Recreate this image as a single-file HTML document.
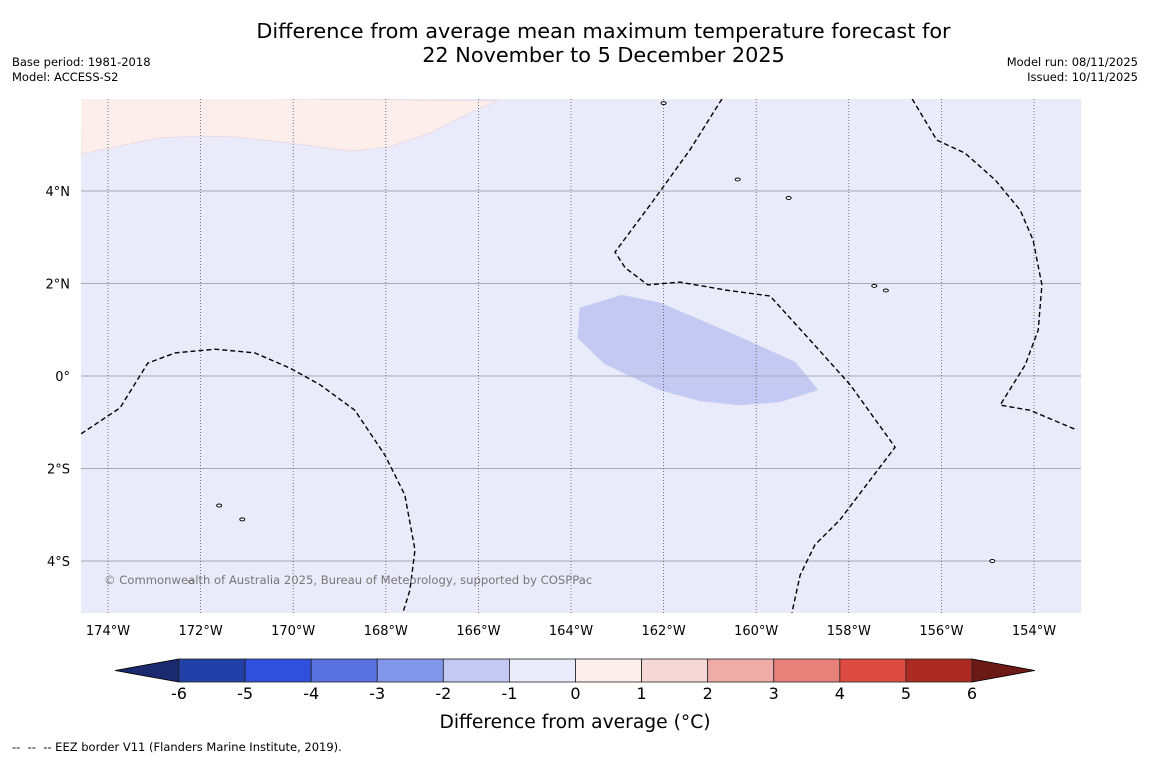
<!DOCTYPE html>
<html><head><meta charset="utf-8"><style>
body{margin:0;background:#fff;font-family:"DejaVu Sans","Liberation Sans",sans-serif;}
#wrap{position:relative;width:1150px;height:758px;overflow:hidden;background:#fff}
.t{position:absolute;white-space:nowrap;color:#000}
</style></head><body>
<div id="wrap">
<div class="t" style="left:0;width:1207px;top:19px;text-align:center;font-size:20.8px;line-height:24px">Difference from average mean maximum temperature forecast for<br>22 November to 5 December 2025</div>
<div class="t" style="left:12px;top:55px;font-size:11.5px;line-height:15px">Base period: 1981-2018<br>Model: ACCESS-S2</div>
<div class="t" style="right:12px;top:55px;font-size:11.5px;line-height:15px;text-align:right">Model run: 08/11/2025<br>Issued: 10/11/2025</div>
<div class="t" style="left:12px;top:740px;font-size:11.5px">--&nbsp; --&nbsp; -- EEZ border V11 (Flanders Marine Institute, 2019).</div>
<svg id="svg" width="1150" height="758" style="position:absolute;left:0;top:0"></svg>
</div>
<script>
const lonTicks=[-174,-172,-170,-168,-166,-164,-162,-160,-158,-156,-154];
const latTicks=[4,2,0,-2,-4];
const warmLon=[-174.58,-172.88,-172.01,-171.26,-170.07,-168.77,-167.95,-167.05,-166.07,-165.58];
const warmLat=[4.80,5.15,5.19,5.17,5.04,4.86,4.95,5.25,5.75,5.95];
const coolLon=[-163.81,-162.90,-162.08,-161.21,-160.35,-159.16,-158.67,-159.49,-160.35,-161.21,-162.08,-163.27,-163.85];
const coolLat=[1.47,1.75,1.58,1.21,0.84,0.30,-0.30,-0.56,-0.63,-0.54,-0.30,0.26,0.82];
const eez1Lon=[-174.58,-173.74,-173.14,-172.55,-171.69,-170.83,-170.07,-169.42,-168.67,-168.02,-167.59,-167.37,-167.48,-167.63];
const eez1Lat=[-1.25,-0.69,0.28,0.50,0.58,0.50,0.17,-0.19,-0.74,-1.71,-2.57,-3.76,-4.63,-5.12];
const eez2Lon=[-160.74,-161.43,-162.29,-163.05,-162.83,-162.34,-161.65,-160.67,-159.70,-158.84,-157.97,-157.00,-157.54,-158.19,-158.73,-159.05,-159.23];
const eez2Lat=[5.99,4.89,3.70,2.68,2.34,1.97,2.03,1.86,1.73,0.78,-0.19,-1.54,-2.25,-3.11,-3.65,-4.30,-5.12];
const eez3Lon=[-156.63,-156.10,-155.49,-154.84,-154.30,-154.02,-153.83,-153.91,-154.19,-154.73,-154.09,-153.07];
const eez3Lat=[5.99,5.10,4.82,4.24,3.59,2.94,1.97,0.99,0.24,-0.63,-0.74,-1.17];
const islandLon=[-159.3,-157.45,-157.2,-171.6,-172.2,-171.1,-154.9,-160.4,-162.0];
const islandLat=[3.85,1.95,1.85,-2.8,-4.45,-3.1,-4.0,4.25,5.9];
const levels=[-6,-5,-4,-3,-2,-1,0,1,2,3,4,5,6];
const binColors=["#2340a8","#2f50dc","#5a72e0","#8297ea","#c3c9f2","#e9ebfa","#fbeeeb","#f5d8d6","#eeaca8","#e8817a","#dc4a40","#ab2a22"];

const X0=81,X1=1081,Y0=99,Y1=613;
const px=lon=>108+(lon+174)*46.3;
const py=lat=>376-lat*46.25;
const NS="http://www.w3.org/2000/svg";
const svg=document.getElementById('svg');
function mk(t,a,p){const e=document.createElementNS(NS,t);for(const k in a)e.setAttribute(k,a[k]);(p||svg).appendChild(e);return e;}
const defs=mk('defs',{});const cp=mk('clipPath',{id:'clip'},defs);mk('rect',{x:X0,y:Y0,width:X1-X0,height:Y1-Y0},cp);
const bg=mk('rect',{x:X0,y:Y0,width:X1-X0,height:Y1-Y0,fill:'#e9ebfa'});


const g=mk('g',{'clip-path':'url(#clip)'});
function pts(lo,la){return lo.map((v,i)=>px(v).toFixed(1)+','+py(la[i]).toFixed(1)).join(' ');}
let wp=pts(warmLon,warmLat)+' '+px(-174.6)+','+(Y0-2);
const warm=mk('polygon',{points:wp,fill:'#fbeeeb',stroke:'#e6cfd8','stroke-width':0.6},g);


const cool=mk('polygon',{points:pts(coolLon,coolLat),fill:'#c3c9f2',stroke:'#c8cdf0','stroke-width':0.6},g);


latTicks.forEach(l=>{const e=mk('line',{x1:X0,x2:X1,y1:py(l),y2:py(l),stroke:'#a8a8bc','stroke-width':1},g);

});
lonTicks.forEach(l=>{const e=mk('line',{x1:px(l),x2:px(l),y1:Y0,y2:Y1,stroke:'#555','stroke-width':0.8,'stroke-dasharray':'1,2'},g);

});
[[eez1Lon,eez1Lat],[eez2Lon,eez2Lat],[eez3Lon,eez3Lat]].forEach(a=>{const e=mk('polyline',{points:pts(a[0],a[1]),fill:'none',stroke:'#000','stroke-width':1.4,'stroke-dasharray':'5,3'},g);

});
islandLon.forEach((l,i)=>{const e=mk('ellipse',{cx:px(l),cy:py(islandLat[i]),rx:2.5,ry:1.5,fill:'#fff',stroke:'#000','stroke-width':1},g);

});
const cr=mk('text',{x:104,y:584,fill:'#777','font-size':11.6,'font-family':'DejaVu Sans,Liberation Sans,sans-serif'},g);cr.textContent='© Commonwealth of Australia 2025, Bureau of Meteorology, supported by COSPPac';


latTicks.forEach(l=>{const t=mk('text',{x:70,y:py(l)+5,'text-anchor':'end','font-size':13,'font-family':'DejaVu Sans,sans-serif'});
t.textContent=l===0?'0°':Math.abs(l)+'°'+(l>0?'N':'S');

});
lonTicks.forEach(l=>{const t=mk('text',{x:px(l),y:635,'text-anchor':'middle','font-size':13,'font-family':'DejaVu Sans,sans-serif'});
t.textContent=Math.abs(l)+'°W';

});
const CB0=179,CB1=972,CY=659,CH=23,bw=(CB1-CB0)/binColors.length;
const la=mk('polygon',{points:`115,${CY+CH/2} ${CB0},${CY} ${CB0},${CY+CH}`,fill:'#1b2a6e',stroke:'#000','stroke-width':0.8});


const ra=mk('polygon',{points:`1035,${CY+CH/2} ${CB1},${CY} ${CB1},${CY+CH}`,fill:'#6b1a15',stroke:'#000','stroke-width':0.8});


binColors.forEach((c,i)=>{const r=mk('rect',{x:CB0+i*bw,y:CY,width:bw,height:CH,fill:c,stroke:'#222','stroke-width':0.8});

});
levels.forEach((v,i)=>{const t=mk('text',{x:CB0+i*bw,y:699,'text-anchor':'middle','font-size':16,'font-family':'DejaVu Sans,sans-serif'});
t.textContent=v;

});
const ct=mk('text',{x:575,y:728,'text-anchor':'middle','font-size':18.7,'font-family':'DejaVu Sans,sans-serif'});ct.textContent='Difference from average (°C)';


</script>
</body></html>
